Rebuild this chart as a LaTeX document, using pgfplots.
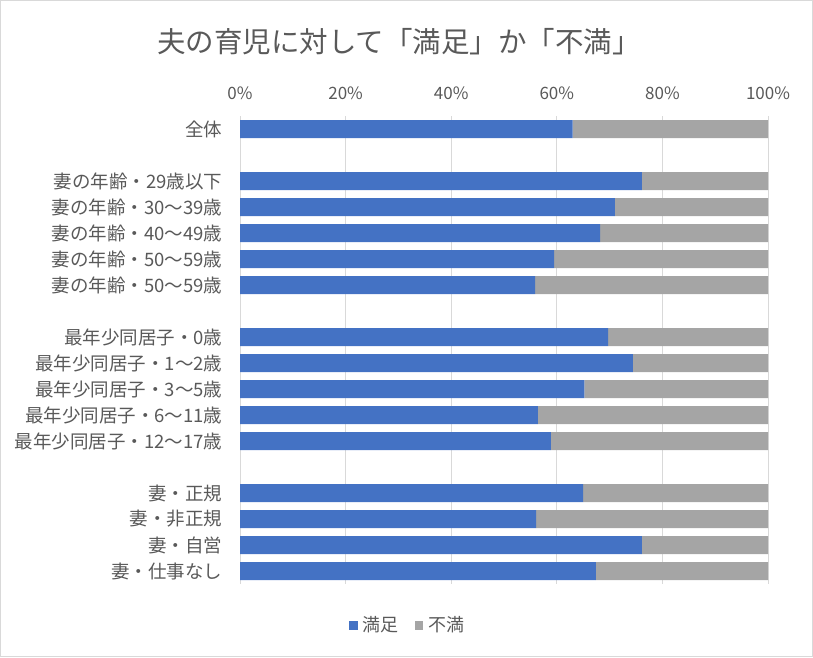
\documentclass[border=0pt]{standalone}
\usepackage{pgfplots}
\pgfplotsset{compat=1.18}
\usepackage{fontspec}
\setmainfont{Noto Sans CJK JP}
\definecolor{cblue}{HTML}{4472C4}
\definecolor{cgrey}{HTML}{A5A5A5}
\definecolor{ctext}{HTML}{595959}
\definecolor{cgrid}{HTML}{D9D9D9}
\begin{document}
\begin{tikzpicture}[x=1pt,y=1pt]
\draw[cgrid, line width=1pt] (0.5,0.5) rectangle (812.5,656.5);
\coordinate (o) at (240,73);
\node[ctext, font=\fontsize{28.5}{32}\selectfont] at (399,615) {夫の育児に対して「満足」か「不満」};
\begin{axis}[at={(o)}, anchor=south west, scale only axis,
  width=528pt, height=468pt,
  xbar stacked, bar width=18pt,
  xmin=0, xmax=100, ymin=-0.5, ymax=17.5, y dir=reverse,
  axis line style={draw=none}, tick style={draw=none},
  xticklabel pos=upper,
  xmajorgrids, grid style={cgrid, line width=1pt},
  xtick={0,20,...,100},
  xticklabel={\pgfmathprintnumber{\tick}\%},
  /pgf/number format/assume math mode=true,
  ytick={0,2,3,4,5,6,8,9,10,11,12,14,15,16,17},
  yticklabels={全体,妻の年齢・29歳以下,妻の年齢・30～39歳,妻の年齢・40～49歳,妻の年齢・50～59歳,妻の年齢・50～59歳,最年少同居子・0歳,最年少同居子・1～2歳,最年少同居子・3～5歳,最年少同居子・6～11歳,最年少同居子・12～17歳,妻・正規,妻・非正規,妻・自営,妻・仕事なし},
  yticklabel style={text=ctext, font=\fontsize{18.5}{20}\selectfont, xshift=-14pt},
  xticklabel style={text=ctext, font=\fontsize{17}{20}\selectfont, yshift=13pt},
  legend style={at={(0.318,-0.0876)}, anchor=center, draw=none, fill=none,
    legend columns=2, text=ctext, font=\fontsize{18}{20}\selectfont,
    /tikz/every odd column/.append style={column sep=3pt},
    /tikz/every even column/.append style={column sep=14pt}},
  legend image code/.code={\fill[#1] (0pt,-4.5pt) rectangle (8.5pt,4pt);},
]
\addplot[fill=cblue, draw=none] coordinates {(63.0,0) (76.1,2) (71.0,3) (68.2,4) (59.5,5) (55.9,6) (69.7,8) (74.4,9) (65.2,10) (56.4,11) (58.9,12) (65.0,14) (56.1,15) (76.1,16) (67.4,17)};
\addplot[fill=cgrey, draw=none] coordinates {(37.0,0) (23.9,2) (29.0,3) (31.8,4) (40.5,5) (44.1,6) (30.3,8) (25.6,9) (34.8,10) (43.6,11) (41.1,12) (35.0,14) (43.9,15) (23.9,16) (32.6,17)};
\legend{満足,不満}
\end{axis}
\end{tikzpicture}
\end{document}
